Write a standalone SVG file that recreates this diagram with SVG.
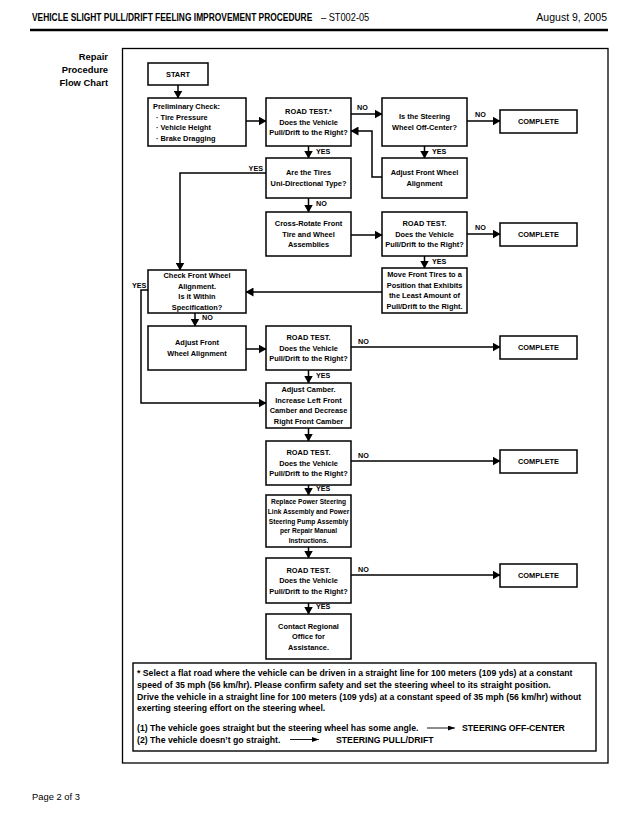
<svg xmlns="http://www.w3.org/2000/svg" width="640" height="832" viewBox="0 0 640 832">
<defs>
<marker id="ah" markerWidth="8" markerHeight="9" refX="7.5" refY="4.5" orient="auto" markerUnits="userSpaceOnUse"><path d="M0,0 L8,4.5 L0,9 z" fill="#000"/></marker>
<marker id="sa" markerWidth="7" markerHeight="5" refX="7" refY="2.5" orient="auto" markerUnits="userSpaceOnUse"><path d="M0,0 L7,2.5 L0,5 z" fill="#000"/></marker>
<style>
text{font-family:"Liberation Sans",Arial,sans-serif;fill:#000}
.b{fill:#fff;stroke:#000;stroke-width:1.5}
.t{font-size:7.4px;font-weight:bold;text-anchor:middle}
.ts{font-size:6.6px;font-weight:bold;text-anchor:middle}
.tl{font-size:7.4px;font-weight:bold}
.lab{font-size:7.2px;font-weight:bold}
.c{fill:none;stroke:#000;stroke-width:1.5}
.fn{font-size:8.7px;font-weight:bold}
.side{font-size:9.4px;font-weight:bold;text-anchor:end}
</style>
</defs>
<rect width="640" height="832" fill="#fff"/>
<g id="header">
<text transform="translate(32,21) scale(0.8,1)" x="0" y="0" style="font-size:10.5px;font-weight:bold">VEHICLE SLIGHT PULL/DRIFT FEELING IMPROVEMENT PROCEDURE</text>
<text transform="translate(321,21) scale(0.88,1)" x="0" y="0" style="font-size:10.5px">– ST002-05</text>
<text x="607" y="21" style="font-size:10.5px;text-anchor:end">August 9, 2005</text>
<line x1="30" y1="30" x2="608" y2="30" stroke="#000" stroke-width="2.5"/>
<text class="side" x="108" y="60">Repair</text>
<text class="side" x="108" y="73">Procedure</text>
<text class="side" x="108" y="86">Flow Chart</text>
</g>
<rect id="frame" x="122.5" y="48.5" width="485.5" height="714.5" fill="none" stroke="#000" stroke-width="1.3"/>
<g id="connectors">
<line class="c" x1="178" y1="85" x2="178" y2="98" marker-end="url(#ah)"/>
<line class="c" x1="246" y1="121" x2="266" y2="121" marker-end="url(#ah)"/>
<line class="c" x1="351" y1="114" x2="382" y2="114" marker-end="url(#ah)"/>
<text class="lab" x="357" y="110">NO</text>
<line class="c" x1="467" y1="121" x2="500" y2="121" marker-end="url(#ah)"/>
<text class="lab" x="475" y="117">NO</text>
<line class="c" x1="308.5" y1="146" x2="308.5" y2="158" marker-end="url(#ah)"/>
<text class="lab" x="316" y="154">YES</text>
<line class="c" x1="424.5" y1="146" x2="424.5" y2="158" marker-end="url(#ah)"/>
<text class="lab" x="432" y="154">YES</text>
<polyline class="c" points="382,177 372,177 372,131 351,131" marker-end="url(#ah)"/>
<polyline class="c" points="266,173 180,173 180,270" marker-end="url(#ah)"/>
<text class="lab" x="263" y="171" text-anchor="end">YES</text>
<line class="c" x1="308.5" y1="198" x2="308.5" y2="212" marker-end="url(#ah)"/>
<text class="lab" x="316" y="206">NO</text>
<line class="c" x1="351" y1="235" x2="382" y2="235" marker-end="url(#ah)"/>
<line class="c" x1="467" y1="234" x2="500" y2="234" marker-end="url(#ah)"/>
<text class="lab" x="475" y="230">NO</text>
<line class="c" x1="424.5" y1="256" x2="424.5" y2="268" marker-end="url(#ah)"/>
<text class="lab" x="432" y="264">YES</text>
<line class="c" x1="382" y1="292" x2="246" y2="292" marker-end="url(#ah)"/>
<polyline class="c" points="148,290 141,290 141,403 266,403" marker-end="url(#ah)"/>
<text class="lab" x="132" y="288">YES</text>
<line class="c" x1="195" y1="313" x2="195" y2="326" marker-end="url(#ah)"/>
<text class="lab" x="202" y="320">NO</text>
<line class="c" x1="246" y1="349" x2="266" y2="349" marker-end="url(#ah)"/>
<line class="c" x1="351" y1="347" x2="500" y2="347" marker-end="url(#ah)"/>
<text class="lab" x="358" y="344">NO</text>
<line class="c" x1="308.5" y1="370" x2="308.5" y2="383" marker-end="url(#ah)"/>
<text class="lab" x="316" y="378">YES</text>
<line class="c" x1="308.5" y1="428" x2="308.5" y2="441" marker-end="url(#ah)"/>
<line class="c" x1="351" y1="461" x2="500" y2="461" marker-end="url(#ah)"/>
<text class="lab" x="358" y="458">NO</text>
<line class="c" x1="308.5" y1="485" x2="308.5" y2="495" marker-end="url(#ah)"/>
<text class="lab" x="316" y="491">YES</text>
<line class="c" x1="308.5" y1="547" x2="308.5" y2="558" marker-end="url(#ah)"/>
<line class="c" x1="351" y1="575" x2="500" y2="575" marker-end="url(#ah)"/>
<text class="lab" x="358" y="572">NO</text>
<line class="c" x1="308.5" y1="603" x2="308.5" y2="614" marker-end="url(#ah)"/>
<text class="lab" x="316" y="609">YES</text>
</g>
<g id="start"><rect class="b" x="148" y="63" width="60" height="22"/><text class="t" x="178" y="76.6">START</text></g>
<g id="prelim"><rect class="b" x="148" y="98" width="98" height="48"/>
<text class="tl" x="153" y="109">Preliminary Check:</text>
<text class="tl" x="156" y="119.5">· Tire Pressure</text>
<text class="tl" x="156" y="130">· Vehicle Height</text>
<text class="tl" x="156" y="140.5">· Brake Dragging</text></g>
<g id="roadtest1"><rect class="b" x="266" y="98" width="85" height="48"/>
<text class="t" x="308.5" y="114.1">ROAD TEST.*</text><text class="t" x="308.5" y="124.6">Does the Vehicle</text><text class="t" x="308.5" y="135.1">Pull/Drift to the Right?</text></g>
<g id="steering"><rect class="b" x="382" y="98" width="85" height="48"/>
<text class="t" x="424.5" y="119.4">Is the Steering</text><text class="t" x="424.5" y="129.9">Wheel Off-Center?</text></g>
<g id="complete1"><rect class="b" x="500" y="110" width="77" height="23"/><text class="t" x="538.5" y="124.1">COMPLETE</text></g>
<g id="tires"><rect class="b" x="266" y="158" width="85" height="40"/>
<text class="t" x="308.5" y="175.4">Are the Tires</text><text class="t" x="308.5" y="185.9">Uni-Directional Type?</text></g>
<g id="adjust1"><rect class="b" x="382" y="158" width="85" height="40"/>
<text class="t" x="424.5" y="175.4">Adjust Front Wheel</text><text class="t" x="424.5" y="185.9">Alignment</text></g>
<g id="crossrotate"><rect class="b" x="266" y="212" width="85" height="44"/>
<text class="t" x="308.5" y="226.1">Cross-Rotate Front</text><text class="t" x="308.5" y="236.6">Tire and Wheel</text><text class="t" x="308.5" y="247.1">Assemblies</text></g>
<g id="roadtest2"><rect class="b" x="382" y="212" width="85" height="44"/>
<text class="t" x="424.5" y="226.1">ROAD TEST.</text><text class="t" x="424.5" y="236.6">Does the Vehicle</text><text class="t" x="424.5" y="247.1">Pull/Drift to the Right?</text></g>
<g id="complete2"><rect class="b" x="500" y="223" width="77" height="23"/><text class="t" x="538.5" y="237.1">COMPLETE</text></g>
<g id="movetires"><rect class="b" x="382" y="268" width="85" height="45"/>
<text class="t" x="424.5" y="277.4">Move Front Tires to a</text><text class="t" x="424.5" y="287.9">Position that Exhibits</text><text class="t" x="424.5" y="298.4">the Least Amount of</text><text class="t" x="424.5" y="308.9">Pull/Drift to the Right.</text></g>
<g id="checkalign"><rect class="b" x="148" y="270" width="98" height="43"/>
<text class="t" x="197" y="278.4">Check Front Wheel</text><text class="t" x="197" y="288.9">Alignment.</text><text class="t" x="197" y="299.4">Is it Within</text><text class="t" x="197" y="309.9">Specification?</text></g>
<g id="adjust2"><rect class="b" x="148" y="326" width="98" height="44"/>
<text class="t" x="197" y="345.4">Adjust Front</text><text class="t" x="197" y="355.9">Wheel Alignment</text></g>
<g id="roadtest3"><rect class="b" x="266" y="326" width="85" height="44"/>
<text class="t" x="308.5" y="340.1">ROAD TEST.</text><text class="t" x="308.5" y="350.6">Does the Vehicle</text><text class="t" x="308.5" y="361.1">Pull/Drift to the Right?</text></g>
<g id="complete3"><rect class="b" x="500" y="336" width="77" height="23"/><text class="t" x="538.5" y="350.1">COMPLETE</text></g>
<g id="camber"><rect class="b" x="266" y="383" width="85" height="45"/>
<text class="t" x="308.5" y="392.4">Adjust Camber.</text><text class="t" x="308.5" y="402.9">Increase Left Front</text><text class="t" x="308.5" y="413.4">Camber and Decrease</text><text class="t" x="308.5" y="423.9">Right Front Camber</text></g>
<g id="roadtest4"><rect class="b" x="266" y="441" width="85" height="44"/>
<text class="t" x="308.5" y="455.1">ROAD TEST.</text><text class="t" x="308.5" y="465.6">Does the Vehicle</text><text class="t" x="308.5" y="476.1">Pull/Drift to the Right?</text></g>
<g id="complete4"><rect class="b" x="500" y="450" width="77" height="23"/><text class="t" x="538.5" y="464.1">COMPLETE</text></g>
<g id="replace"><rect class="b" x="266" y="495" width="85" height="52"/>
<text class="ts" x="308.5" y="504.4">Replace Power Steering</text><text class="ts" x="308.5" y="514">Link Assembly and Power</text><text class="ts" x="308.5" y="523.6">Steering Pump Assembly</text><text class="ts" x="308.5" y="533.2">per Repair Manual</text><text class="ts" x="308.5" y="542.8">Instructions.</text></g>
<g id="roadtest5"><rect class="b" x="266" y="558" width="85" height="45"/>
<text class="t" x="308.5" y="572.6">ROAD TEST.</text><text class="t" x="308.5" y="583.1">Does the Vehicle</text><text class="t" x="308.5" y="593.6">Pull/Drift to the Right?</text></g>
<g id="complete5"><rect class="b" x="500" y="564" width="77" height="23"/><text class="t" x="538.5" y="578.1">COMPLETE</text></g>
<g id="contact"><rect class="b" x="266" y="614" width="85" height="45"/>
<text class="t" x="308.5" y="628.6">Contact Regional</text><text class="t" x="308.5" y="639.1">Office for</text><text class="t" x="308.5" y="649.6">Assistance.</text></g>
<g id="footnote">
<rect x="133" y="663" width="463" height="88" fill="none" stroke="#000" stroke-width="1.4"/>
<text class="fn" x="137" y="676">* Select a flat road where the vehicle can be driven in a straight line for 100 meters (109 yds) at a constant</text>
<text class="fn" x="137" y="688">speed of 35 mph (56 km/hr). Please confirm safety and set the steering wheel to its straight position.</text>
<text class="fn" x="137" y="699.5">Drive the vehicle in a straight line for 100 meters (109 yds) at a constant speed of 35 mph (56 km/hr) without</text>
<text class="fn" x="137" y="711">exerting steering effort on the steering wheel.</text>
<text class="fn" x="137" y="731">(1) The vehicle goes straight but the steering wheel has some angle.</text>
<line x1="427" y1="728" x2="455" y2="728" stroke="#000" stroke-width="0.9" marker-end="url(#sa)"/>
<text class="fn" x="462" y="731">STEERING OFF-CENTER</text>
<text class="fn" x="137" y="742.5">(2) The vehicle doesn’t go straight.</text>
<line x1="290" y1="739.5" x2="319" y2="739.5" stroke="#000" stroke-width="0.9" marker-end="url(#sa)"/>
<text class="fn" x="336" y="742.5">STEERING PULL/DRIFT</text>
</g>
<text x="32" y="800" style="font-size:9.4px">Page 2 of 3</text>
</svg>
